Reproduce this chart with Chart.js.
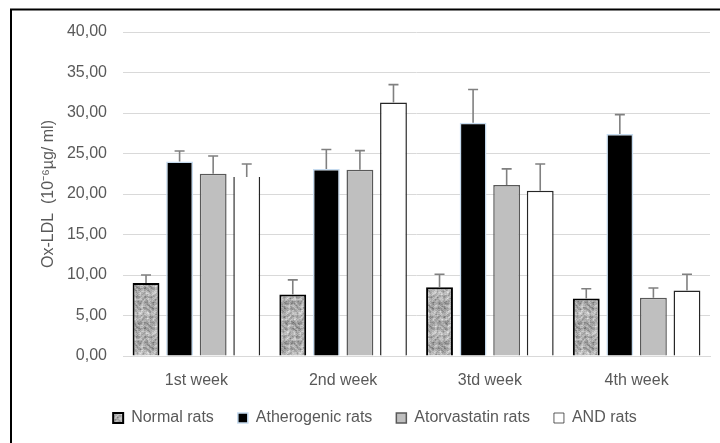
<!DOCTYPE html>
<html>
<head>
<meta charset="utf-8">
<script src="https://cdn.jsdelivr.net/npm/chart.js@4.4.1/dist/chart.umd.min.js"></script>
<style>
  html, body { margin: 0; padding: 0; background: #fff; }
  #wrap { width: 720px; height: 443px; }
</style>
</head>
<body>
<div id="wrap"><canvas id="oxChart" width="720" height="443"></canvas></div>
<script>
/* global Chart */

let weeks = ["1st week", "2nd week", "3td week", "4th week"];

let normalRats = [9.0, 7.6, 8.5, 7.1];
let normalErr = [1.0, 1.8, 1.6, 1.2];
let atherogenicRats = [24.0, 23.1, 28.8, 27.4];
let atherogenicErr = [1.3, 2.4, 4.1, 2.4];
let atorvastatinRats = [22.5, 23.0, 21.1, 7.2];
let atorvastatinErr = [2.2, 2.35, 2.0, 1.2];
let andRats = [22.1, 31.3, 20.4, 8.1];
let andErr = [1.6, 2.2, 3.3, 2.0];

let yTicks = { min: 0, max: 40, step: 5 };

const textGray = "#595959";
const font = "'Liberation Sans', Arial, sans-serif";

// granite-ish texture for the "Normal rats" bars
function granite() {
  let size = 40;
  let c = document.createElement("canvas");
  c.width = size;
  c.height = size;
  let g = c.getContext("2d");
  let img = g.createImageData(size, size);
  let k = (2 * Math.PI) / size;
  for (let y = 0; y < size; y++) {
    for (let x = 0; x < size; x++) {
      let a = Math.sin(3 * k * x + 2.1 * Math.sin(2 * k * y + 1));
      let b = Math.cos(4 * k * y + 1.8 * Math.sin(3 * k * x + 2));
      let d = Math.sin(7 * k * x + 3 * Math.cos(5 * k * y));
      let e = Math.cos(9 * k * y - 2 * Math.sin(6 * k * x));
      let v = 178 + 35 * a * b + 22 * d * e - 18 * Math.max(0, a * d);
      v = Math.max(70, Math.min(235, v));
      let i = (y * size + x) * 4;
      img.data[i] = v;
      img.data[i + 1] = v;
      img.data[i + 2] = v;
      img.data[i + 3] = 255;
    }
  }
  g.putImageData(img, 0, 0);
  return g.createPattern(c, "repeat");
}

const errorBars = {
  id: "errorBars",
  afterDatasetsDraw(chart) {
    let ctx = chart.ctx;
    let y = chart.scales.y;
    chart.data.datasets.forEach((ds, di) => {
      let meta = chart.getDatasetMeta(di);
      meta.data.forEach((bar, i) => {
        let top = y.getPixelForValue(ds.data[i] + ds.errors[i]);
        ctx.save();
        ctx.strokeStyle = "#808080";
        ctx.lineWidth = 1.6;
        ctx.beginPath();
        ctx.moveTo(bar.x, bar.y);
        ctx.lineTo(bar.x, top);
        ctx.moveTo(bar.x - 5, top);
        ctx.lineTo(bar.x + 5, top);
        ctx.stroke();
        ctx.restore();
      });
    });
  },
};

const frame = {
  id: "frame",
  afterLayout(chart) {
    // the legend sits a bit right of centre in the original
    chart.legend.left += 15;
    chart.legend.right += 15;
  },
  afterDraw(chart) {
    let ctx = chart.ctx;
    ctx.save();
    ctx.strokeStyle = "#000";
    ctx.lineWidth = 2;
    ctx.beginPath();
    ctx.moveTo(11, 443);
    ctx.lineTo(11, 9.5);
    ctx.lineTo(720, 9.5);
    ctx.stroke();
    ctx.restore();
  },
};

let cnv = document.getElementById("oxChart").getContext("2d");
let oxChart = new Chart(cnv, {
  type: "bar",
  data: {
    labels: weeks,
    datasets: [
      {
        label: "Normal rats",
        data: normalRats,
        errors: normalErr,
        backgroundColor: granite(),
        borderColor: "#000000",
        borderWidth: 2,
      },
      {
        label: "Atherogenic rats",
        data: atherogenicRats,
        errors: atherogenicErr,
        backgroundColor: "#000000",
        borderColor: "#c6dbef",
        borderWidth: 1.5,
      },
      {
        label: "Atorvastatin rats",
        data: atorvastatinRats,
        errors: atorvastatinErr,
        backgroundColor: "#bfbfbf",
        borderColor: "#595959",
        borderWidth: 1.5,
      },
      {
        label: "AND rats",
        data: andRats,
        errors: andErr,
        backgroundColor: "#ffffff",
        borderColor: "#262626",
        // first-week bar has no top edge in the original
        borderWidth: (c) =>
          c.type === "data" && c.dataIndex === 0
            ? { top: 0, bottom: 0, left: 1.5, right: 1.5 }
            : 1.5,
      },
    ],
  },
  options: {
    responsive: false,
    animation: false,
    devicePixelRatio: 1,
    layout: {
      padding: { left: 10, right: 10, top: 32, bottom: 7 },
    },
    datasets: {
      bar: {
        barPercentage: 0.8,
        categoryPercentage: 0.915,
      },
    },
    plugins: {
      legend: {
        position: "bottom",
        labels: {
          boxWidth: 10,
          boxHeight: 10,
          padding: 24,
          color: textGray,
          font: { family: font, size: 16 },
        },
      },
      tooltip: { enabled: false },
    },
    scales: {
      x: {
        grid: { display: false, drawTicks: false },
        border: { display: true, color: "#d9d9d9", width: 1 },
        ticks: {
          padding: 15,
          color: textGray,
          font: { family: font, size: 16 },
        },
        afterFit(scale) {
          scale.height = 30;
        },
      },
      y: {
        min: yTicks.min,
        max: yTicks.max,
        grid: { color: "#d9d9d9", drawTicks: false },
        border: { display: false },
        ticks: {
          stepSize: yTicks.step,
          padding: 16,
          color: textGray,
          font: { family: font, size: 16 },
          callback: (v) => v.toFixed(2).replace(".", ","),
        },
        title: {
          display: true,
          text: "Ox-LDL  (10\u207B\u2076\u00B5g/ ml)",
          color: textGray,
          font: { family: font, size: 16 },
          padding: { top: 29, bottom: 0 },
        },
        afterFit(scale) {
          scale.width = 113;
        },
      },
    },
  },
  plugins: [errorBars, frame],
});
</script>
</body>
</html>
